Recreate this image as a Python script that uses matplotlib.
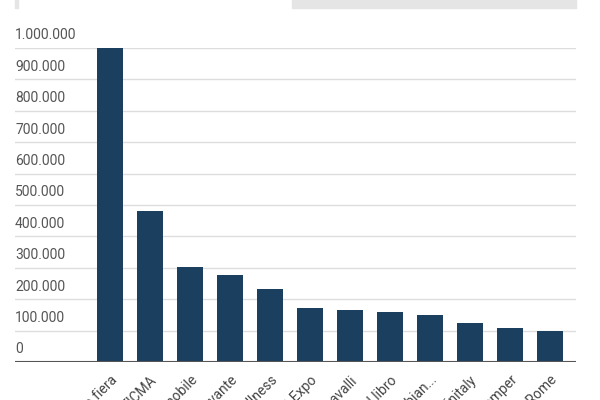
import matplotlib.pyplot as plt
import matplotlib.transforms as mtransforms
from matplotlib.patches import Rectangle

fiere = ["Artigiano in fiera", "EICMA", "Salone del mobile", "Fiera del Levante",
         "Rimini Wellness", "Host Expo", "Fieracavalli", "Salone del libro",
         "Pitti Colombian...", "Vinitaly", "Romics Temper", "Maker Faire Rome"]
visitatori = [1000000, 481000, 303000, 277000, 232000, 172000,
              166000, 159000, 150000, 124000, 108000, 99000]
yticks = [0, 100000, 200000, 300000, 400000, 500000, 600000, 700000, 800000, 900000, 1000000]

fig = plt.figure(figsize=(6, 4), dpi=100)
ax = fig.add_axes([0.025, 0.095, 0.935, 0.785])
x = list(range(len(fiere)))
ax.bar(x, visitatori, width=0.65, color="#1b3f5e", zorder=3)
ax.set_xlim(-2.375, 11.65)
ax.set_ylim(0, 1000000)

trans = mtransforms.blended_transform_factory(ax.transAxes, ax.transData)
for t in yticks:
    if t > 0:
        ax.axhline(t, color="#dddddd", lw=1, zorder=1)
    lab = f"{t:,}".replace(",", ".")
    ax.text(0, t + 18000, lab, transform=trans, ha="left", va="bottom",
            fontsize=10, color="#555555", family="Roboto")
ax.axhline(0, color="#555555", lw=1.5, zorder=4)

ax.set_yticks([])
ax.set_xticks(x)
ax.set_xticklabels(fiere, rotation=45, ha="right", rotation_mode="anchor",
                   fontsize=10, color="#444444", family="Roboto")
ax.tick_params(axis="x", length=0, pad=8)
for s in ax.spines.values():
    s.set_visible(False)

fig.patches.append(Rectangle((292 / 600, 1 - 8 / 400), 284 / 600, 8 / 400,
                             transform=fig.transFigure, color="#e5e5e5"))
fig.patches.append(Rectangle((15 / 600, 1 - 8 / 400), 3 / 600, 8 / 400,
                             transform=fig.transFigure, color="#e5e5e5"))
fig.savefig("out.png")
